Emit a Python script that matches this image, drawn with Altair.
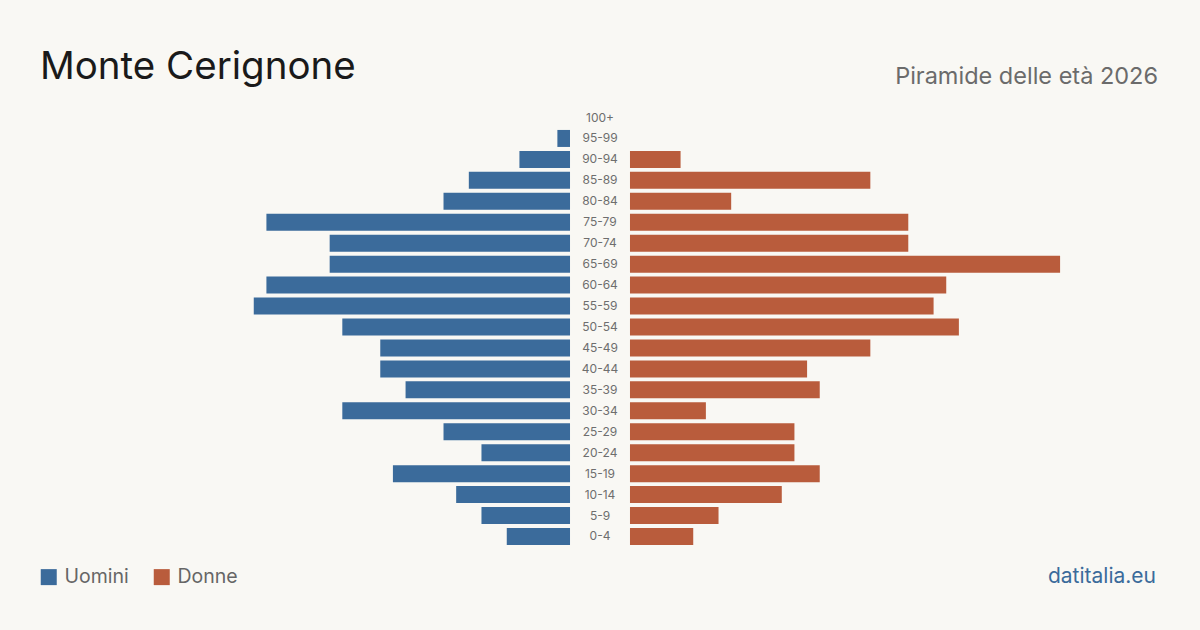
import altair as alt
import pandas as pd

ages = ["100+", "95-99", "90-94", "85-89", "80-84", "75-79", "70-74", "65-69", "60-64",
        "55-59", "50-54", "45-49", "40-44", "35-39", "30-34", "25-29", "20-24", "15-19",
        "10-14", "5-9", "0-4"]
men = [0, 1, 4, 8, 10, 24, 19, 19, 24, 25, 18, 15, 15, 13, 18, 10, 7, 14, 9, 7, 5]
women = [0, 0, 4, 19, 8, 22, 22, 34, 25, 24, 26, 19, 14, 15, 6, 13, 13, 15, 12, 7, 5]
series = ["Uomini", "Donne"]
colors = ["#3b6b9b", "#b95c3c"]

BG = "#f9f8f4"
FONT = "Inter"
GAP = 2.37  # half of the central label gap, in data units
XMAX = 47.43

rows = []
for a, m, w in zip(ages, men, women):
    rows.append({"age": a, "sex": "Uomini", "v": m, "x0": -GAP, "x1": -GAP - m})
    rows.append({"age": a, "sex": "Donne", "v": w, "x0": GAP, "x1": GAP + w})
df = pd.DataFrame(rows)
lab = pd.DataFrame({"age": ages})

xs = alt.Scale(domain=[-XMAX, XMAX], nice=False, zero=False)
ys = alt.Scale(domain=ages, range=[109, 545], paddingInner=0.1885, paddingOuter=0)

bars = alt.Chart(df).transform_filter("datum.v > 0").mark_bar().encode(
    x=alt.X("x0:Q", scale=xs, axis=None),
    x2="x1:Q",
    y=alt.Y("age:N", scale=ys, axis=None),
    color=alt.Color("sex:N", scale=alt.Scale(domain=series, range=colors),
                    legend=alt.Legend(orient="none", legendX=39, legendY=567, direction="horizontal",
                                      title=None, symbolType="square", symbolSize=256,
                                      symbolStrokeWidth=0, symbolOpacity=1,
                                      labelFont=FONT, labelFontSize=19.5, labelColor="#666666",
                                      labelOffset=6, columnPadding=23)),
)

labels = alt.Chart(lab).mark_text(font=FONT, fontSize=12, color="#6e6e6e").encode(
    x=alt.datum(0, scale=xs),
    y=alt.Y("age:N", scale=ys, axis=None),
    text="age:N",
)

title = alt.Chart(pd.DataFrame({"t": ["Monte Cerignone"]})).mark_text(
    font=FONT, fontSize=38.5, color="#1a1a1a", align="left", baseline="alphabetic"
).encode(x=alt.value(40), y=alt.value(79), text="t:N")

subtitle = alt.Chart(pd.DataFrame({"t": ["Piramide delle età 2026"]})).mark_text(
    font=FONT, fontSize=23.5, color="#6b6b6b", align="right", baseline="alphabetic"
).encode(x=alt.value(1158), y=alt.value(84), text="t:N")

footer = alt.Chart(pd.DataFrame({"t": ["datitalia.eu"]})).mark_text(
    font=FONT, fontSize=21, color="#3b6b9b", align="right", baseline="alphabetic"
).encode(x=alt.value(1156), y=alt.value(583), text="t:N")

chart = alt.layer(bars, labels, title, subtitle, footer).properties(
    width=1200, height=630, background=BG, padding=0,
    autosize=alt.AutoSizeParams(type="none"),
).configure_view(stroke=None)

chart.save("out.html", embed_options={"renderer": "svg", "actions": False})
